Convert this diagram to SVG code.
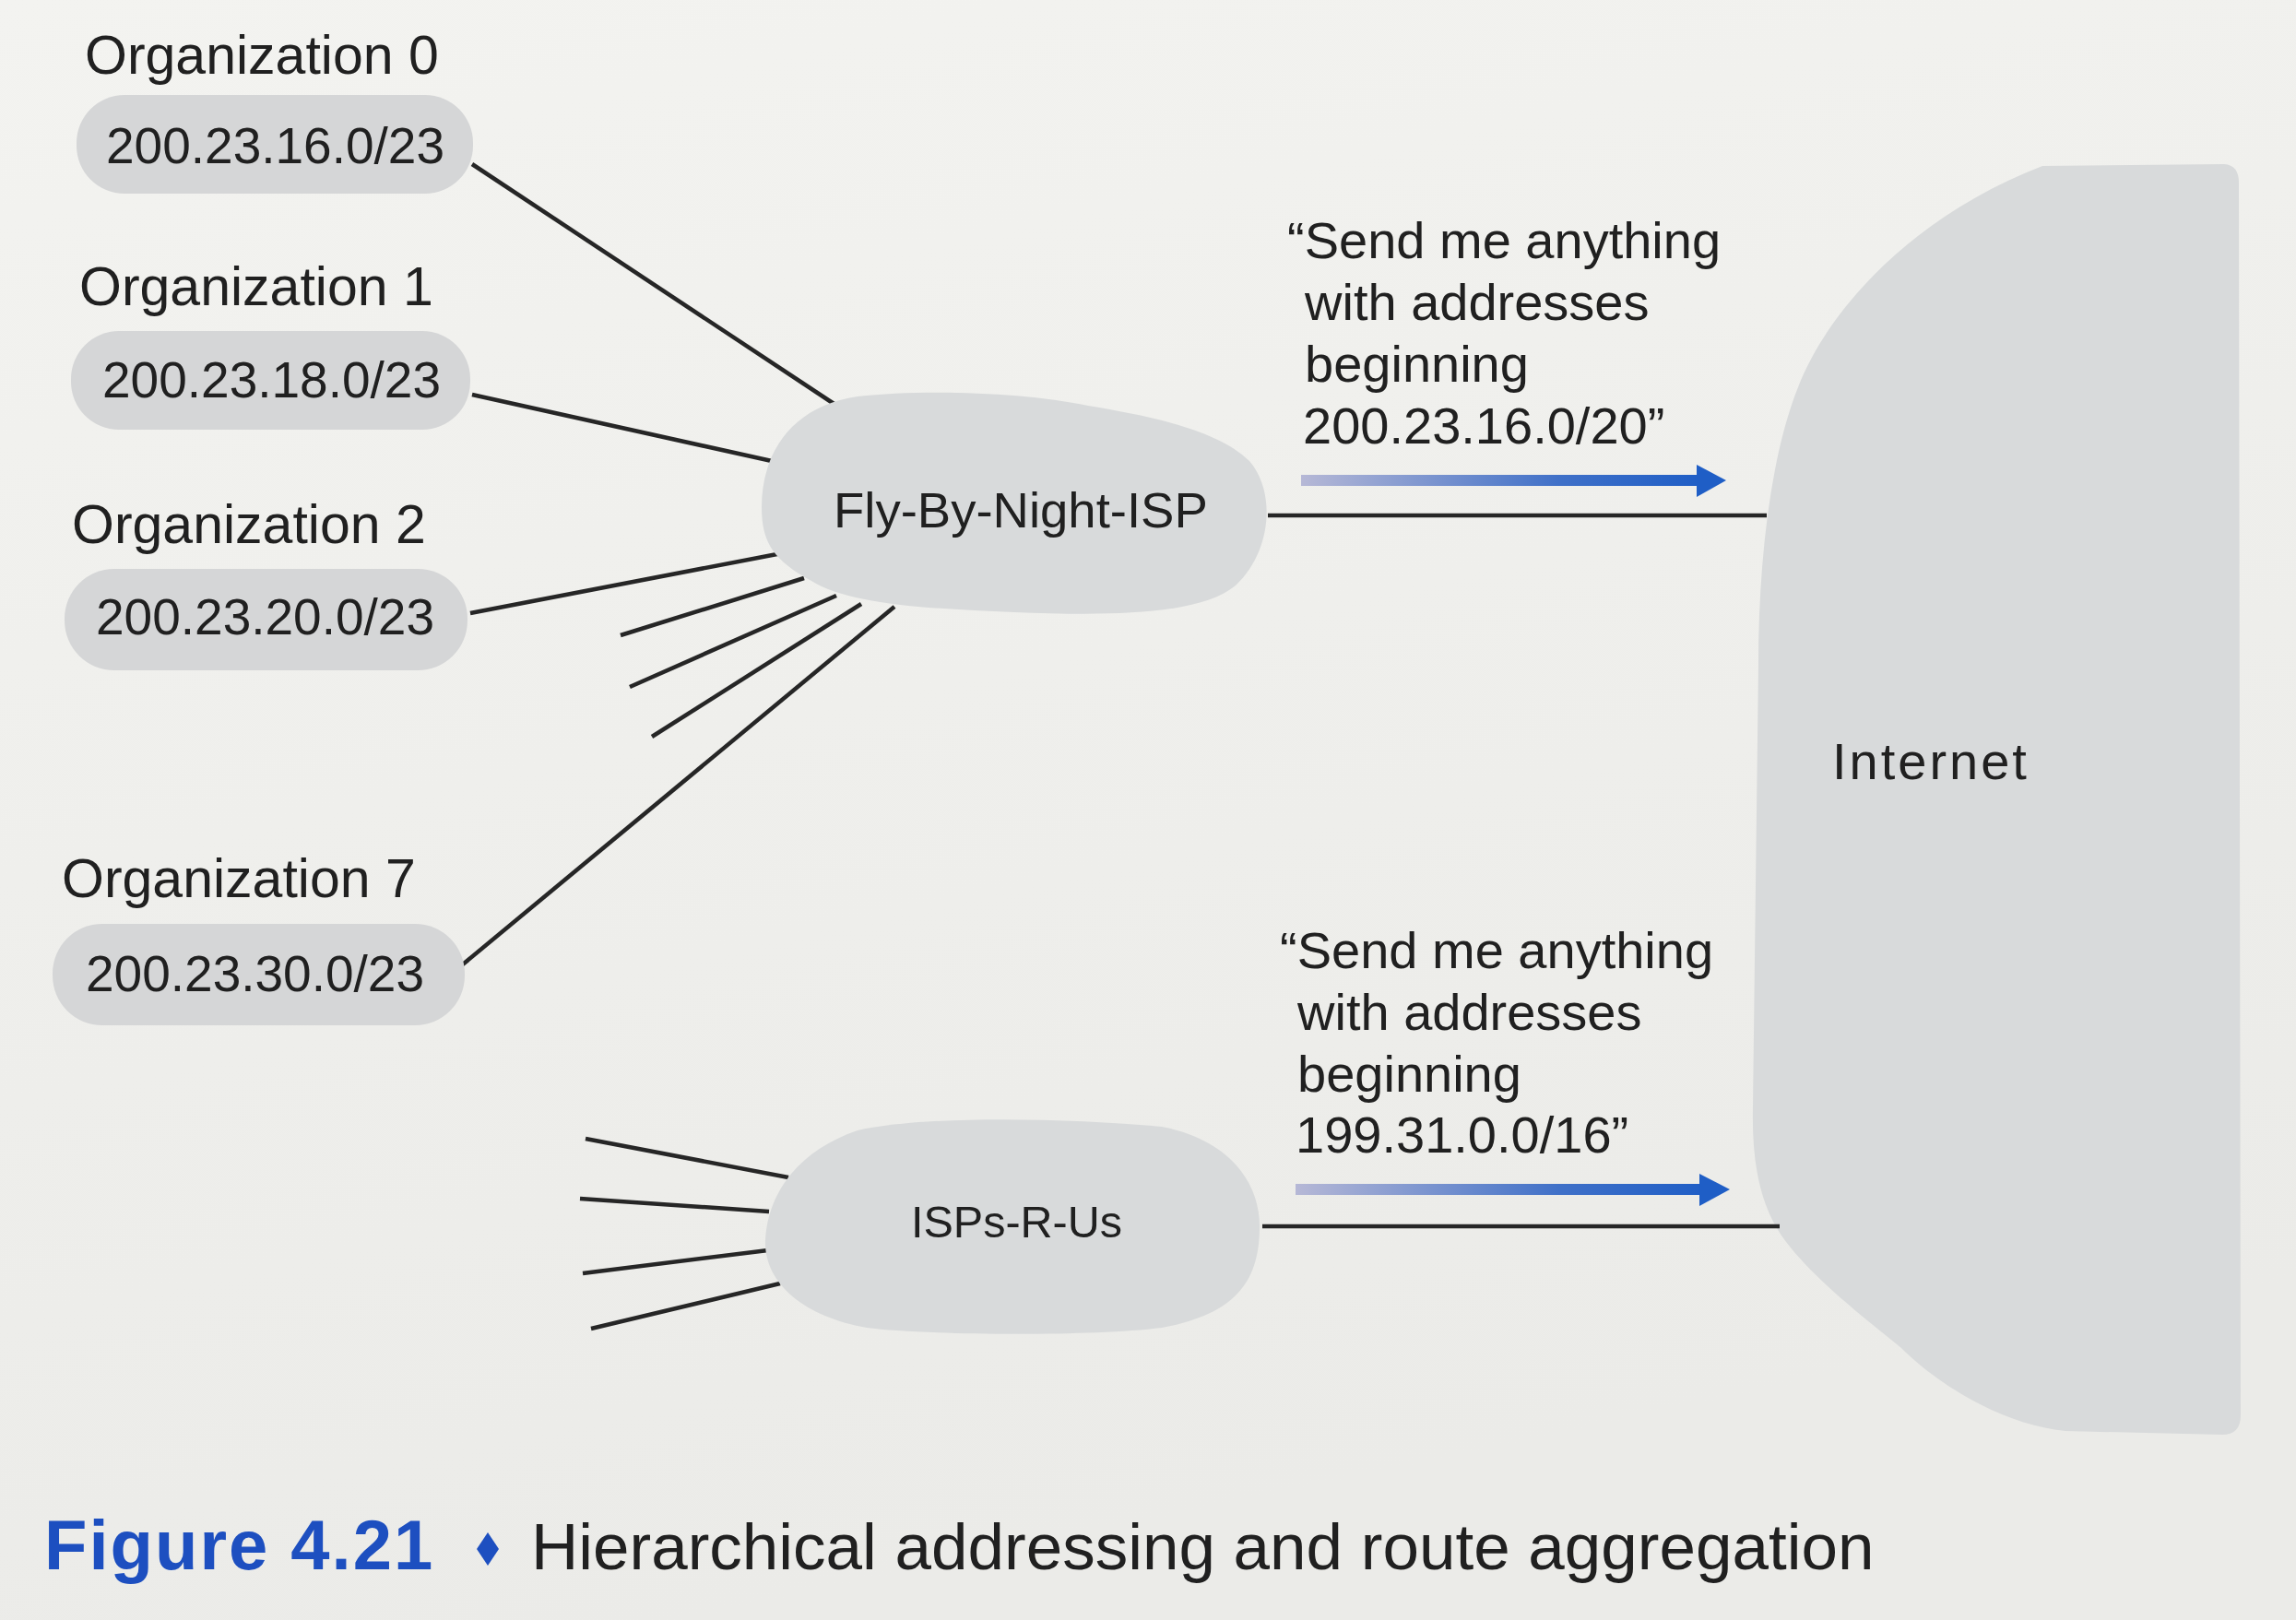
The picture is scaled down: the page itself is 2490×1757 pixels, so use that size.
<svg xmlns="http://www.w3.org/2000/svg" width="2490" height="1757" viewBox="0 0 2490 1757">
  <defs>
    <linearGradient id="paper" x1="0" y1="0" x2="0.3" y2="1">
      <stop offset="0" stop-color="#f3f3f0"/>
      <stop offset="1" stop-color="#ebebe8"/>
    </linearGradient>
    <linearGradient id="adv" x1="0" y1="0" x2="1" y2="0">
      <stop offset="0" stop-color="#b6b8d6"/>
      <stop offset="0.65" stop-color="#3f70c8"/>
      <stop offset="1" stop-color="#1f5ec6"/>
    </linearGradient>
    <style>
      .t { font-family: "Liberation Sans", Arial, sans-serif; fill: #202020; }
      .org { font-size: 59px; }
      .addr { font-size: 55px; }
      .quote { font-size: 56px; }
      .pill { fill: #d5d6d7; }
      .blob { fill: #d8dadb; }
      .link { stroke: #262626; stroke-width: 4.5; stroke-linecap: butt; fill: none; }
      .head { fill: #1f5ec6; }
    </style>
  </defs>

  <rect x="0" y="0" width="2490" height="1757" fill="url(#paper)"/>

  <!-- Internet -->
  <g id="internet">
    <path class="blob" fill="#dadcdd" d="M 2215,180 L 2412,178 Q 2428,179 2428,198 L 2430,1535 Q 2430,1556 2410,1556 L 2240,1552 C 2170,1545 2100,1500 2062,1462 C 2010,1420 1960,1380 1932,1340 C 1905,1300 1900,1250 1901,1200 L 1907,720 C 1907,620 1918,500 1950,420 C 1985,330 2080,232 2215,180 Z"/>
    <text class="t" x="1987" y="845" font-size="56" letter-spacing="3">Internet</text>
  </g>

  <!-- Connectors -->
  <g id="connectors">
    <line class="link" x1="512" y1="178" x2="909" y2="441"/>
    <line class="link" x1="512" y1="428" x2="837" y2="500"/>
    <line class="link" x1="510" y1="665" x2="848" y2="600"/>
    <line class="link" x1="673" y1="689" x2="872" y2="627"/>
    <line class="link" x1="683" y1="745" x2="907" y2="646"/>
    <line class="link" x1="707" y1="799" x2="934" y2="655"/>
    <line class="link" x1="497" y1="1050" x2="970" y2="658"/>
    <line class="link" x1="635" y1="1235" x2="855" y2="1277"/>
    <line class="link" x1="629" y1="1300" x2="834" y2="1314"/>
    <line class="link" x1="632" y1="1381" x2="833" y2="1356"/>
    <line class="link" x1="641" y1="1441" x2="846" y2="1392"/>
    <line class="link" x1="1375" y1="559" x2="1916" y2="559"/>
    <line class="link" x1="1369" y1="1330" x2="1930" y2="1330"/>
  </g>

  <!-- Organizations -->
  <g id="org0">
    <text class="t org" x="92" y="80">Organization 0</text>
    <rect class="pill" x="83" y="103" width="430" height="107" rx="52"/>
    <text class="t addr" x="115" y="177">200.23.16.0/23</text>
  </g>
  <g id="org1">
    <text class="t org" x="86" y="331">Organization 1</text>
    <rect class="pill" x="77" y="359" width="433" height="107" rx="52"/>
    <text class="t addr" x="111" y="431">200.23.18.0/23</text>
  </g>
  <g id="org2">
    <text class="t org" x="78" y="589">Organization 2</text>
    <rect class="pill" x="70" y="617" width="437" height="110" rx="54"/>
    <text class="t addr" x="104" y="688">200.23.20.0/23</text>
  </g>
  <g id="org7">
    <text class="t org" x="67" y="973">Organization 7</text>
    <rect class="pill" x="57" y="1002" width="447" height="110" rx="54"/>
    <text class="t addr" x="93" y="1075">200.23.30.0/23</text>
  </g>

  <!-- ISPs -->
  <g id="fly-by-night-isp">
    <path class="blob" d="M 826,550 C 826,490 860,440 930,430 C 1000,422 1110,425 1180,440 C 1240,450 1320,465 1355,500 C 1385,535 1378,600 1340,635 C 1300,668 1200,668 1100,664 C 1000,660 920,655 880,630 C 840,608 826,590 826,550 Z"/>
    <text class="t" x="904" y="572" font-size="54.5">Fly-By-Night-ISP</text>
  </g>
  <g id="isps-r-us">
    <path class="blob" d="M 830,1345 C 832,1300 860,1250 930,1226 C 1000,1210 1150,1212 1260,1222 C 1330,1235 1366,1280 1366,1330 C 1366,1390 1340,1425 1260,1440 C 1180,1450 1000,1448 940,1440 C 870,1428 828,1390 830,1345 Z"/>
    <text class="t" x="988" y="1342" font-size="48.5">ISPs-R-Us</text>
  </g>

  <!-- Route advertisements -->
  <g id="adv-fly-by-night">
    <text class="t quote" x="1396" y="280">“Send me anything</text>
    <text class="t quote" x="1415" y="347">with addresses</text>
    <text class="t quote" x="1415" y="414">beginning</text>
    <text class="t quote" x="1413" y="481">200.23.16.0/20”</text>
    <rect x="1411" y="515" width="434" height="12" fill="url(#adv)"/>
    <polygon class="head" points="1840,504 1872,521 1840,539"/>
  </g>
  <g id="adv-isps-r-us">
    <text class="t quote" x="1388" y="1050">“Send me anything</text>
    <text class="t quote" x="1407" y="1117">with addresses</text>
    <text class="t quote" x="1407" y="1184">beginning</text>
    <text class="t quote" x="1405" y="1250">199.31.0.0/16”</text>
    <rect x="1405" y="1284" width="443" height="12" fill="url(#adv)"/>
    <polygon class="head" points="1843,1273 1876,1290 1843,1308"/>
  </g>

  <!-- Caption -->
  <g id="caption">
    <text x="48" y="1702" font-family="'Liberation Sans', Arial, sans-serif" font-weight="bold" font-size="76" letter-spacing="2" fill="#1d4fc0">Figure 4.21</text>
    <polygon points="529,1662 541,1680 529,1698 517,1680" fill="#1d4fc0"/>
    <text class="t" x="576" y="1702" font-size="71" fill="#1e1e1e">Hierarchical addressing and route aggregation</text>
  </g>
</svg>
